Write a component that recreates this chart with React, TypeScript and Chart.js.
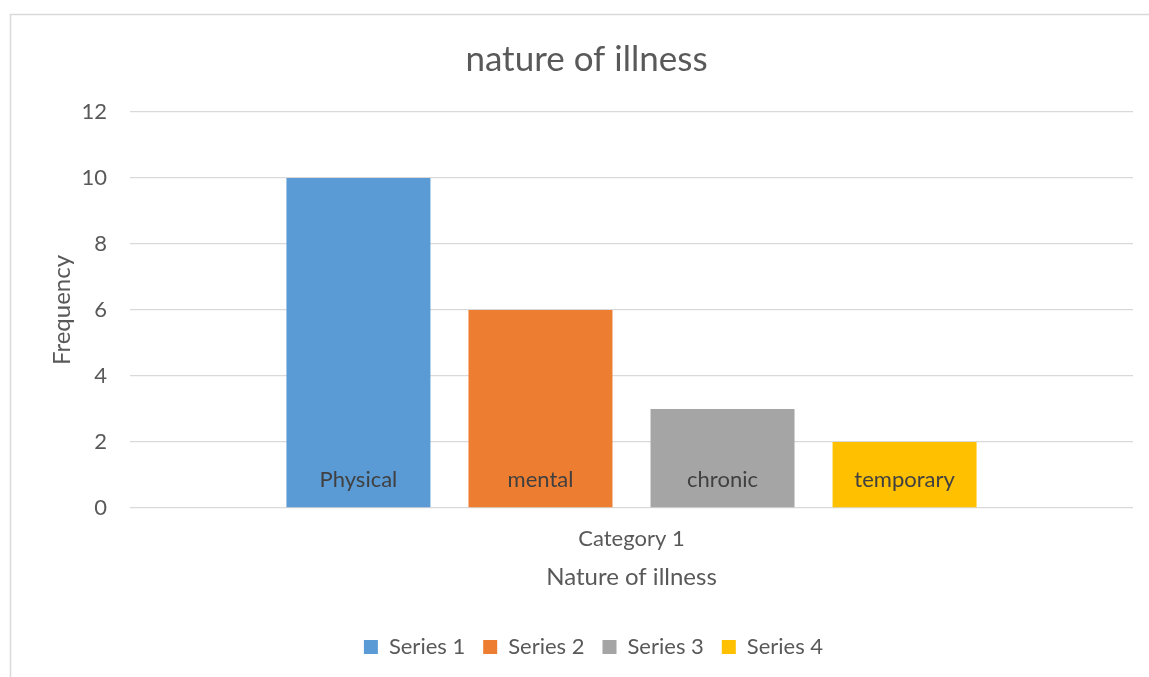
import React, { useEffect, useRef } from "react";
import { Chart, registerables } from "chart.js";

Chart.register(...registerables);

const categories = ["Category 1"];
const seriesNames = ["Series 1", "Series 2", "Series 3", "Series 4"];
const seriesValues = [[10], [6], [3], [2]];
const seriesColors = ["#5B9BD5", "#ED7D31", "#A5A5A5", "#FFC000"];
const barLabels = ["Physical", "mental", "chronic", "temporary"];
const chartTitle = "nature of illness";
const xTitle = "Nature of illness";
const yTitle = "Frequency";

const FONT = "Lato";
const TEXT = "#595959";

const borderPlugin = {
  id: "outerBorder",
  beforeDraw(chart: any) {
    const ctx = chart.ctx;
    ctx.save();
    ctx.strokeStyle = "#d9d9d9";
    ctx.lineWidth = 1.5;
    ctx.beginPath();
    ctx.moveTo(10.5, chart.height);
    ctx.lineTo(10.5, 14.5);
    ctx.lineTo(chart.width, 14.5);
    ctx.stroke();
    ctx.restore();
  },
};

const shiftPlugin = {
  id: "shiftBlocks",
  afterLayout(chart: any) {
    if (chart.legend) {
      chart.legend.left += 27;
      chart.legend.right += 27;
    }
    if (chart.titleBlock) {
      chart.titleBlock.left += 20;
      chart.titleBlock.right += 20;
    }
  },
};

const barLabelPlugin = {
  id: "barLabels",
  afterDatasetsDraw(chart: any) {
    const ctx = chart.ctx;
    ctx.save();
    ctx.font = `22px ${FONT}`;
    ctx.fillStyle = "#404040";
    ctx.textAlign = "center";
    ctx.textBaseline = "middle";
    chart.data.datasets.forEach((_: any, i: number) => {
      const el = chart.getDatasetMeta(i).data[0];
      if (!el) return;
      ctx.fillText(barLabels[i], el.x, chart.chartArea.bottom - 28);
    });
    ctx.restore();
  },
};

export default function App() {
  const ref = useRef<HTMLCanvasElement>(null);
  useEffect(() => {
    if (!ref.current) return;
    const chart = new Chart(ref.current, {
      type: "bar",
      data: {
        labels: categories,
        datasets: seriesNames.map((name, i) => ({
          label: name,
          data: seriesValues[i],
          backgroundColor: seriesColors[i],
          borderWidth: 0,
          categoryPercentage: 0.726,
          barPercentage: 0.791,
        })),
      },
      options: {
        animation: false,
        responsive: false,
        layout: { padding: { left: 0, right: 16, top: 0, bottom: 9 } },
        plugins: {
          title: {
            display: true,
            text: chartTitle,
            color: TEXT,
            font: { family: FONT, size: 35, weight: "normal" },
            padding: { top: 39, bottom: 31 },
          },
          legend: {
            position: "bottom",
            labels: {
              boxWidth: 14,
              boxHeight: 14,
              padding: 18,
              color: TEXT,
              font: { family: FONT, size: 22 },
            },
          },
          tooltip: { enabled: false },
        },
        scales: {
          x: {
            grid: { display: false, drawTicks: false },
            border: { display: false },
            ticks: { color: TEXT, font: { family: FONT, size: 22 }, padding: 18 },
            title: {
              display: true,
              text: xTitle,
              color: TEXT,
              font: { family: FONT, size: 24 },
              padding: { top: 11, bottom: 26 },
            },
            afterFit(scale: any) {
              scale.height = 110;
            },
          },
          y: {
            min: 0,
            max: 12,
            ticks: { stepSize: 2, color: TEXT, font: { family: FONT, size: 22 }, padding: 23 },
            grid: { color: "#d9d9d9", drawTicks: false, lineWidth: 1.3 },
            border: { display: false },
            title: {
              display: true,
              text: yTitle,
              color: TEXT,
              font: { family: FONT, size: 24 },
              padding: { top: 48, bottom: 0 },
            },
            afterFit(scale: any) {
              scale.width = 130;
            },
          },
        },
      },
      plugins: [borderPlugin, shiftPlugin, barLabelPlugin],
    });
    return () => chart.destroy();
  }, []);
  return (
    <div style={{ position: "fixed", left: 0, top: 0, width: 1149, height: 677, background: "#fff" }}>
      <canvas ref={ref} width={1149} height={677} style={{ width: 1149, height: 677 }} />
    </div>
  );
}
